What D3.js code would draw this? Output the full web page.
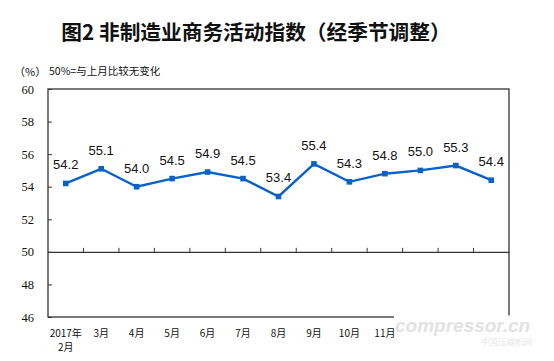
<!DOCTYPE html>
<html><head><meta charset="utf-8">
<script src="https://cdn.jsdelivr.net/npm/d3@7"></script>
<style>body{margin:0;background:#fff}svg{display:block}</style>
</head><body>
<svg id="c" width="554" height="361"></svg>
<script>
const categories = ["2017年\n2月","3月","4月","5月","6月","7月","8月","9月","10月","11月","12月","2018年\n1月","2月"];
const values = [54.2,55.1,54.0,54.5,54.9,54.5,53.4,55.4,54.3,54.8,55.0,55.3,54.4];
const yTicks = [46,48,50,52,54,56,58,60];

const svg = d3.select("#c");
const L=48,R=509,T=89,B=317;
const x = d3.scaleBand().domain(categories).range([L,R]);
const y = d3.scaleLinear().domain([46,60]).range([B,T]);
const blue="#0a62c8";
const WMX=394; // watermark left edge

// title
svg.append("text").attr("x",256).attr("y",40).attr("text-anchor","middle")
  .attr("font-family","Noto Sans CJK SC").attr("font-weight","bold").attr("font-size",20.7)
  .attr("fill","#111").text("图2 非制造业商务活动指数（经季节调整）");
svg.append("text").attr("x",14).attr("y",76).attr("font-family","Noto Sans CJK SC")
  .attr("font-size",11).attr("fill","#111").text("（%）");
svg.append("text").attr("x",49).attr("y",75).attr("font-family","Noto Sans CJK SC")
  .attr("font-size",10.5).attr("fill","#111").text("50%=与上月比较无变化");

// frame
svg.append("rect").attr("x",L).attr("y",T).attr("width",R-L).attr("height",B-T)
  .attr("fill","none").attr("stroke","#333").attr("stroke-width",1.3);

// y axis
const ya = svg.append("g").attr("transform",`translate(${L},0)`)
  .call(d3.axisLeft(y).tickValues(yTicks).tickSize(-4).tickPadding(14).tickFormat(d3.format("d")));
ya.select(".domain").remove();
ya.selectAll("line").attr("stroke","#333");
ya.selectAll("text").attr("font-family","Liberation Serif").attr("font-size",12.5).attr("fill","#111");

// 50 line with ticks
const y50=y(50);
const xa = svg.append("g").attr("transform",`translate(0,${y50})`)
  .call(d3.axisBottom(x).tickSize(0).tickFormat(""));
xa.select(".domain").attr("stroke","#333").attr("stroke-width",1.3);
xa.selectAll(".tick").remove();
const bounds = categories.slice(1).map(c=>x(c));
svg.append("g").selectAll("line").data(bounds).join("line")
  .attr("x1",d=>d).attr("x2",d=>d).attr("y1",y50).attr("y2",y50-4).attr("stroke","#333");

// line
const cx = (d,i)=>x(categories[i])+x.bandwidth()/2;
svg.append("path").datum(values).attr("fill","none").attr("stroke",blue).attr("stroke-width",2.4)
  .attr("d",d3.line().x(cx).y(d=>y(d)));
svg.append("g").selectAll("rect").data(values).join("rect")
  .attr("x",(d,i)=>cx(d,i)-2.8).attr("y",d=>y(d)-2.8).attr("width",5.6).attr("height",5.6).attr("fill",blue);
svg.append("g").selectAll("text").data(values).join("text")
  .attr("x",cx).attr("y",d=>y(d)-14).attr("text-anchor","middle")
  .attr("font-family","Liberation Sans").attr("font-size",13).attr("fill","#111")
  .text(d=>d.toFixed(1));

// watermark (covers the lower right corner, including the last tick labels)
svg.append("rect").attr("x",WMX).attr("y",315.5).attr("width",150).attr("height",45).attr("fill","#fff");
svg.append("text").attr("x",WMX+1).attr("y",332).attr("font-family","Liberation Sans").attr("font-style","italic")
  .attr("font-weight","bold").attr("font-size",19).attr("fill","#e2e2e2").text("compressor.cn");
svg.append("text").attr("x",532).attr("y",345).attr("text-anchor","end").attr("font-family","Noto Sans CJK SC")
  .attr("font-size",8.5).attr("fill","#e6e6e6").text("中国压缩机网");

// x labels (those under the watermark are not visible)
const shown = categories.filter(c=>x(c)+x.bandwidth()/2 < WMX);
const lab = svg.append("g").selectAll("text").data(shown).join("text")
  .attr("text-anchor","middle").attr("font-family","Noto Sans CJK SC").attr("font-size",10)
  .attr("fill","#111");
lab.each(function(d){
  const parts=d.split("\n"); const t=d3.select(this);
  parts.forEach((p,i)=>t.append("tspan").attr("x",x(d)+x.bandwidth()/2).attr("y",337+i*13.5).text(p));
});
</script>
</body></html>
